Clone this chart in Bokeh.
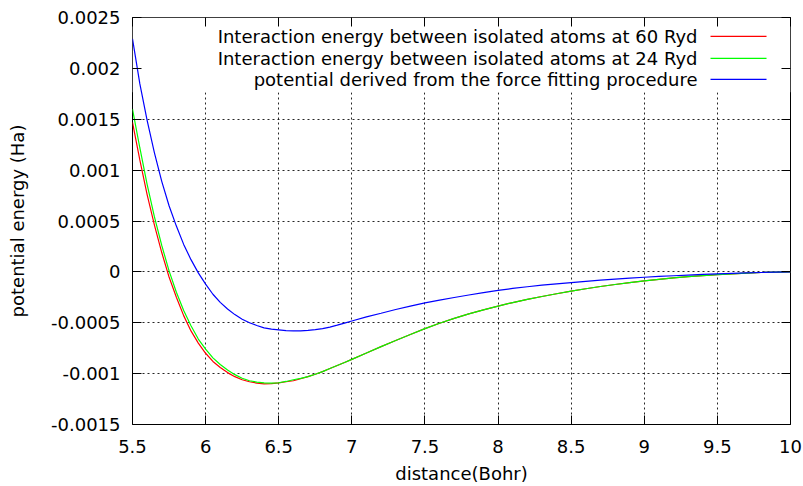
from bokeh.plotting import figure
from bokeh.models import Range1d, FixedTicker, LinearAxis, Label, Arrow, BoxAnnotation
from bokeh.embed import file_html
from bokeh.resources import INLINE

# ---------------- data ----------------
distance = [5.5, 5.55, 5.6, 5.65, 5.7, 5.75, 5.8, 5.85, 5.9, 5.95,
            6.0, 6.05, 6.1, 6.15, 6.2, 6.25, 6.3, 6.35, 6.4, 6.45,
            6.5, 6.55, 6.6, 6.65, 6.7, 6.75, 6.8, 6.85, 6.9, 6.95, 7.0,
            7.1, 7.2, 7.3, 7.4, 7.5, 7.6, 7.7, 7.8, 7.9,
            8.0, 8.1, 8.2, 8.3, 8.4, 8.5, 8.6, 8.7, 8.8, 8.9,
            9.0, 9.1, 9.2, 9.3, 9.4, 9.5, 9.6, 9.7, 9.8, 9.9, 10.0]

energy_60ryd = [0.00147, 0.00110, 0.00076, 0.00046, 0.00019, -0.00005, -0.00025, -0.00043, -0.00058, -0.00070,
                -0.00080, -0.00088, -0.00094, -0.00099, -0.00103, -0.00106, -0.00108, -0.001093, -0.00110, -0.001098,
                -0.00109, -0.00108, -0.00107, -0.00105, -0.00103, -0.001006, -0.00098, -0.00095, -0.00092, -0.00089, -0.00086,
                -0.000797, -0.000735, -0.000675, -0.000615, -0.000558, -0.000505, -0.000457, -0.000413, -0.000373,
                -0.000336, -0.000302, -0.000271, -0.000242, -0.000215, -0.00019, -0.000166, -0.000144, -0.000124, -0.000105,
                -0.000088, -0.000073, -0.000059, -0.000047, -0.000036, -0.000027, -0.000019, -0.000012, -0.000006, -0.000002, 0.0]

energy_24ryd = [0.00160, 0.00122, 0.00086, 0.00054, 0.00026, 0.00001, -0.00020, -0.00038, -0.00053, -0.00066,
                -0.00076, -0.000845, -0.00091, -0.000965, -0.00101, -0.001045, -0.00107, -0.001083, -0.00109, -0.001093,
                -0.00109, -0.001077, -0.00106, -0.001047, -0.00103, -0.001006, -0.00098, -0.00095, -0.00092, -0.00089, -0.00086,
                -0.000797, -0.000735, -0.000675, -0.000615, -0.000558, -0.000505, -0.000457, -0.000413, -0.000373,
                -0.000336, -0.000302, -0.000271, -0.000242, -0.000215, -0.00019, -0.000166, -0.000144, -0.000124, -0.000105,
                -0.000088, -0.000073, -0.000059, -0.000047, -0.000036, -0.000027, -0.000019, -0.000012, -0.000006, -0.000002, 0.0]

energy_fit = [0.00229, 0.00185, 0.00149, 0.00117, 0.00089, 0.00065, 0.00045, 0.00027, 0.00012, -0.00001,
              -0.00012, -0.00022, -0.00030, -0.000365, -0.00042, -0.000465, -0.00050, -0.000527, -0.00055, -0.000563,
              -0.00057, -0.000577, -0.00058, -0.000579, -0.000575, -0.000568, -0.000558, -0.000543, -0.000524, -0.000503, -0.000483,
              -0.000443, -0.000407, -0.000370, -0.000337, -0.000305, -0.000278, -0.000252, -0.000227, -0.000204,
              -0.000182, -0.000163, -0.000146, -0.000131, -0.000117, -0.000105, -0.000093, -0.000082, -0.000072, -0.000062,
              -0.000053, -0.000045, -0.000038, -0.000031, -0.000025, -0.00002, -0.000015, -0.00001, -0.000006, -0.000003, 0.0]

series_labels = ["Interaction energy between isolated atoms at 60 Ryd",
                 "Interaction energy between isolated atoms at 24 Ryd",
                 "potential derived from the force fitting procedure"]
series_colors = ["#ff0000", "#00ff00", "#0000ff"]

x_ticks = [5.5, 6, 6.5, 7, 7.5, 8, 8.5, 9, 9.5, 10]
x_tick_labels = ["5.5", "6", "6.5", "7", "7.5", "8", "8.5", "9", "9.5", "10"]
y_ticks = [-0.0015, -0.001, -0.0005, 0, 0.0005, 0.001, 0.0015, 0.002, 0.0025]
y_tick_labels = ["-0.0015", "-0.001", "-0.0005", "0", "0.0005", "0.001", "0.0015", "0.002", "0.0025"]
x_title = "distance(Bohr)"
y_title = "potential energy (Ha)"

FONT = "DejaVu Sans"
FS = "18px"

p = figure(width=803, height=486, x_range=Range1d(5.5, 10), y_range=Range1d(-0.0015, 0.0025),
           output_backend="svg", toolbar_location=None,
           min_border_left=132, min_border_right=13, min_border_top=17, min_border_bottom=62)
p.background_fill_color = "white"
p.border_fill_color = "white"
p.outline_line_color = "black"
p.outline_line_width = 1

# axes
for ax in (p.xaxis[0], p.yaxis[0]):
    ax.axis_line_color = None
    ax.major_tick_in = 9
    ax.major_tick_out = 0
    ax.minor_tick_in = 0
    ax.minor_tick_out = 0
    ax.major_tick_line_color = "black"
    ax.major_label_text_font = FONT
    ax.major_label_text_font_size = FS
    ax.major_label_text_color = "black"
    ax.axis_label_text_font = FONT
    ax.axis_label_text_font_size = FS
    ax.axis_label_text_font_style = "normal"
    ax.axis_label_text_color = "black"

p.xaxis.ticker = FixedTicker(ticks=x_ticks)
p.xaxis.major_label_overrides = dict(zip(x_ticks, x_tick_labels))
p.xaxis.axis_label = x_title
p.xaxis.major_label_standoff = 15
p.xaxis.axis_label_standoff = 7

p.yaxis.ticker = FixedTicker(ticks=y_ticks)
p.yaxis.major_label_overrides = dict(zip(y_ticks, y_tick_labels))
p.yaxis.axis_label = y_title
p.yaxis.major_label_standoff = 12
p.yaxis.axis_label_standoff = 20

# mirror ticks (no labels)
top_ax = LinearAxis(ticker=FixedTicker(ticks=x_ticks),
                    major_label_overrides={t: "" for t in x_ticks},
                    major_label_text_font_size="1px",
                    axis_line_color=None, major_tick_in=9, major_tick_out=0,
                    minor_tick_in=0, minor_tick_out=0, major_label_standoff=0)
right_ax = LinearAxis(ticker=FixedTicker(ticks=y_ticks),
                      major_label_overrides={t: "" for t in y_ticks},
                      major_label_text_font_size="1px",
                      axis_line_color=None, major_tick_in=9, major_tick_out=0,
                      minor_tick_in=0, minor_tick_out=0, major_label_standoff=0)
p.add_layout(top_ax, "above")
p.add_layout(right_ax, "right")

# grid
p.xgrid.ticker = FixedTicker(ticks=x_ticks)
p.ygrid.ticker = FixedTicker(ticks=y_ticks)
for g in (p.xgrid[0], p.ygrid[0]):
    g.grid_line_color = "black"
    g.grid_line_dash = "2 3"
    g.grid_line_width = 1
    g.grid_line_alpha = 0.85

# opaque key area
key_box = BoxAnnotation(bottom=0.001765, fill_color="white", fill_alpha=1.0,
                        line_color=None, level="underlay")
p.add_layout(key_box)

# curves
for ys, c in zip([energy_60ryd, energy_24ryd, energy_fit], series_colors):
    p.line(distance, ys, line_color=c, line_width=1.2)

# key (gnuplot style: text right-aligned, sample line on the right)
key_rows = [0.002314, 0.002098, 0.001892]
for lab, c, ry in zip(series_labels, series_colors, key_rows):
    p.add_layout(Label(x=9.364, y=ry, text=lab, text_align="right", text_baseline="middle",
                       text_font=FONT, text_font_size=FS, text_color="black"))
    p.add_layout(Arrow(end=None, x_start=9.453, x_end=9.836, y_start=ry, y_end=ry,
                       line_color=c, line_width=1.2))

open("out.html", "w").write(file_html(p, INLINE))
